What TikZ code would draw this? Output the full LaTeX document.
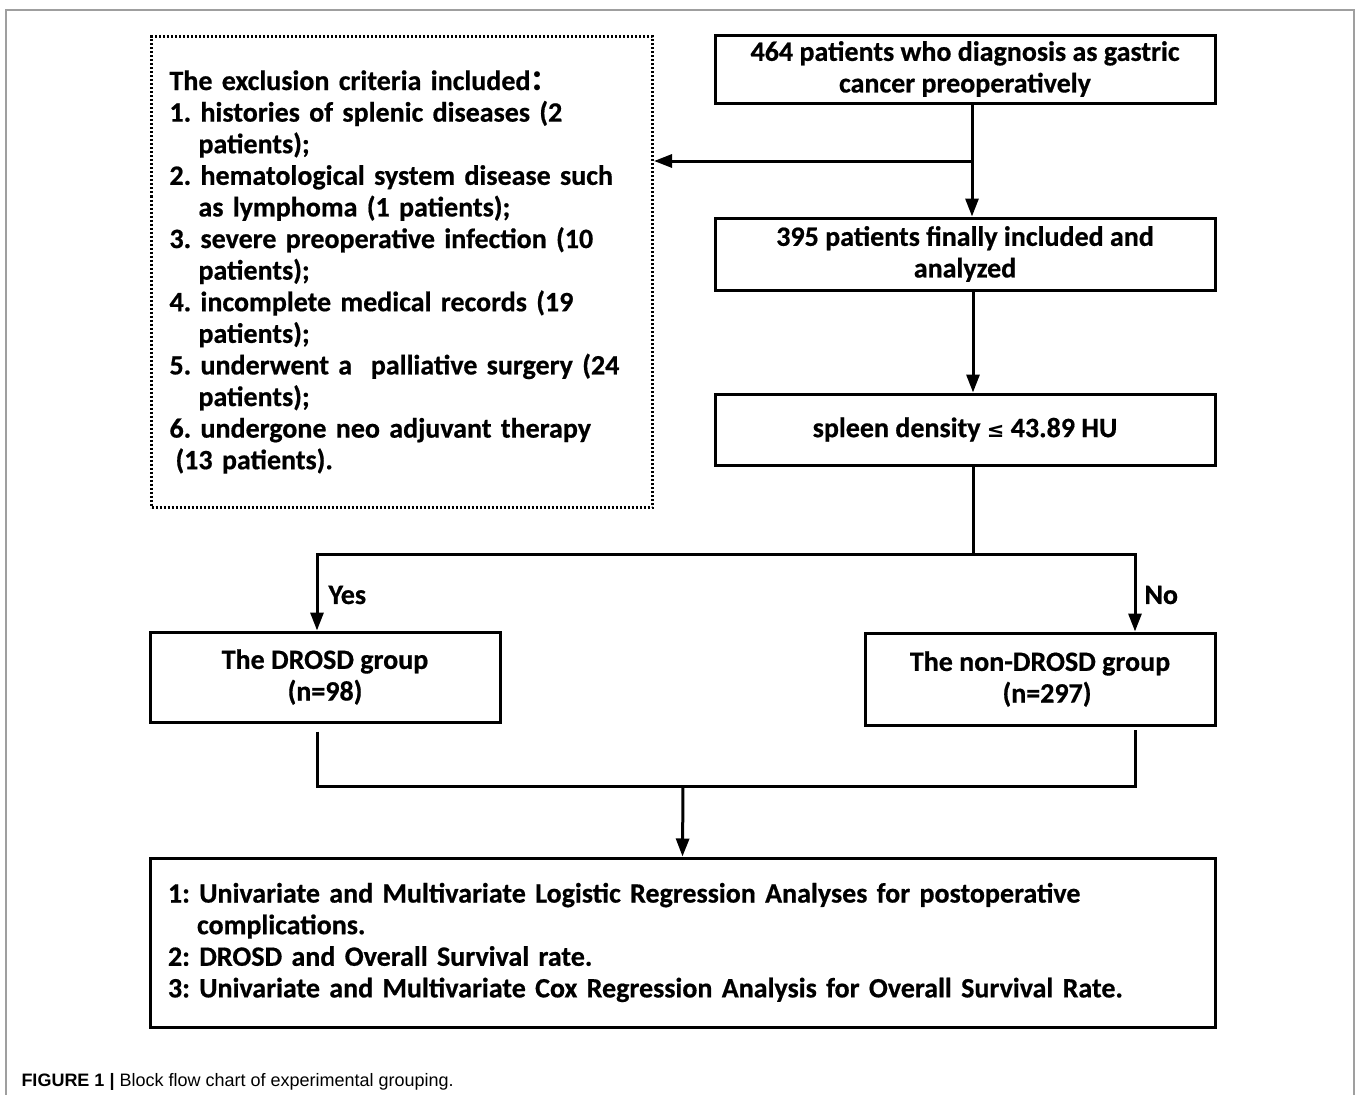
\documentclass[tikz,border=0pt]{standalone}
\usepackage{fontspec}
\setmainfont[FakeBold=0.6]{Carlito}
\newfontfamily\capfont{Liberation Sans}
\newfontfamily\symfont{DejaVu Sans}
\newfontfamily\cjk{Noto Sans CJK SC}
\usetikzlibrary{arrows.meta}
\newcommand{\hang}{\hspace*{29pt}}
\frenchspacing

\begin{document}
\begin{tikzpicture}[x=1pt,y=-1pt,line width=3pt,
    box/.style={draw,line width=3pt,inner sep=0pt,align=center,
      font=\fontsize{28}{31.6}\selectfont\bfseries},
    arr/.style={-{Triangle[length=18pt,width=13pt]}},
    lbl/.style={inner sep=0pt,anchor=west,font=\fontsize{28}{31.6}\selectfont\bfseries}]
  \useasboundingbox (0,0) rectangle (1358,1095);
  \draw [gray!75,line width=1.5pt] (6,1095) -- (6,10) -- (1354,10) -- (1354,1095);
  \node [box,dash pattern=on 2pt off 2pt,anchor=north west,minimum width=501pt,
    minimum height=471pt,text width=465pt,align=left] (excl) at (150,35)
    {The exclusion criteria included{\cjk ：}\\
     1. histories of splenic diseases (2\\
     \hang patients);\\
     2. hematological system disease such\\
     \hang as lymphoma (1 patients);\\
     3. severe preoperative infection (10\\
     \hang patients);\\
     4. incomplete medical records (19\\
     \hang patients);\\
     5. underwent a\ \ palliative surgery (24\\
     \hang patients);\\
     6. undergone neo adjuvant therapy\\
     \hspace*{6pt}(13 patients).};
  \node [box,minimum width=500pt,minimum height=68pt] (n464) at (965,69)
    {464 patients who diagnosis as gastric\\cancer preoperatively};
  \node [box,minimum width=500pt,minimum height=72pt] (n395) at (965,254)
    {395 patients finally included and\\analyzed};
  \node [box,minimum width=500pt,minimum height=71pt] (spleen) at (965,429.5)
    {spleen density {\symfont\fontsize{21}{21}\selectfont ≤} 43.89 HU};
  \node [box,minimum width=350pt,minimum height=90pt] (drosd) at (325,677)
    {The DROSD group\\(n=98)};
  \node [box,minimum width=350pt,minimum height=92pt] (nondrosd) at (1040,679)
    {The non-DROSD group\\\hspace*{14pt}(n=297)};
  \node [box,minimum width=1065pt,minimum height=169pt,text width=1029pt,align=left]
    (result) at (682.5,942.5)
    {1: Univariate and Multivariate Logistic Regression Analyses for postoperative\\
     \hang complications.\\
     2: DROSD and Overall Survival rate.\\
     3: Univariate and Multivariate Cox Regression Analysis for Overall Survival Rate.};
  \coordinate (excljoin) at (972,161);
  \coordinate (split) at (973,554);
  \coordinate (yesline) at (317,554);
  \coordinate (noline) at (1135,554);
  \coordinate (merge) at (683,786);
  \draw [arr] (excljoin |- n464.south) -- (excljoin |- n395.north);
  \draw [arr] (excljoin) -- (excl.east |- excljoin);
  \draw [arr] (split |- n395.south) -- (split |- spleen.north);
  \draw (split |- spleen.south) -- (split);
  \draw [arr] (split) -| (yesline |- drosd.north);
  \draw [arr] (split) -| (noline |- nondrosd.north);
  \node [lbl] (yes) at (327,595) {Yes};
  \node [lbl] (no) at (1143,595) {No};
  \draw (yesline |- drosd.south) ++(0,8) -- (yesline |- merge) -- (noline |- merge)
    -- ++(0,-56);
  \draw [arr] (merge) -- (result.north);
  \node [inner sep=0pt,anchor=base west,font=\capfont\fontsize{18}{18}\selectfont]
    (caption) at (20,1086) {\textbf{FIGURE 1 |} Block flow chart of experimental grouping.};
\end{tikzpicture}
\end{document}
